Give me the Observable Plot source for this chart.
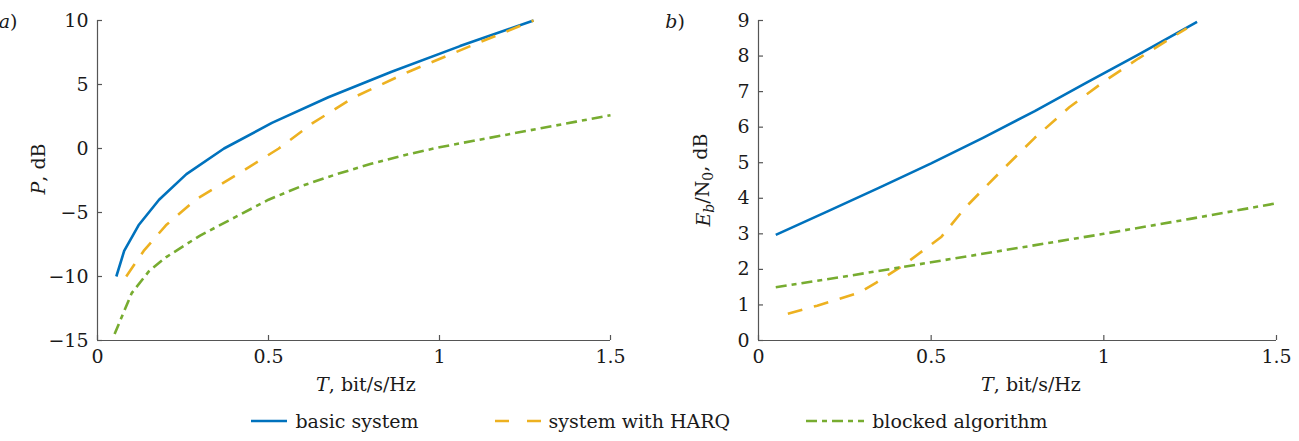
<!DOCTYPE html>
<html>
<head>
<meta charset="utf-8">
<script src="https://cdn.jsdelivr.net/npm/d3@7"></script>
<script src="https://cdn.jsdelivr.net/npm/@observablehq/plot@0.6"></script>
<style>
  html, body { margin: 0; padding: 0; background: #fff; }
  #wrap { width: 1299px; height: 441px; font-family: "DejaVu Serif", serif; color: #1a1a1a; }
  #panels { display: flex; width: 1299px; height: 400px; }
  #legend { display: flex; justify-content: center; align-items: center; height: 41px; font-size: 19px; gap: 0; }
  .item { display: flex; align-items: center; margin: 0 38px; }
  .item svg { margin-right: 8px; }
</style>
</head>
<body>
<div id="wrap">
  <div id="panels"></div>
  <div id="legend"></div>
</div>
<script>
// ---- data ----
const seriesNames = ["basic system", "system with HARQ", "blocked algorithm"];
const colors = ["#0072BD", "#EDB120", "#77AC30"];
const dashes = [null, "15,12", "11,5,5,5"];

const xTicks = [0, 0.5, 1, 1.5];
const leftYTicks = [-15, -10, -5, 0, 5, 10];
const rightYTicks = [0, 1, 2, 3, 4, 5, 6, 7, 8, 9];

// panel a) P, dB
const leftT_basic = [0.055, 0.078, 0.12, 0.18, 0.26, 0.37, 0.51, 0.675, 0.86, 1.06, 1.275];
const leftP_basic = [-10, -8, -6, -4, -2, 0, 2, 4, 6, 8, 10];
const leftT_harq = [0.084, 0.135, 0.2, 0.287, 0.41, 0.53, 0.63, 0.75, 0.91, 1.09, 1.275];
const leftP_harq = [-10, -8, -6, -4, -2, 0, 2, 4, 6, 8, 10];
const leftT_block = [0.05, 0.1, 0.15, 0.2, 0.3, 0.4, 0.5, 0.6, 0.7, 0.8, 0.9, 1.0, 1.1, 1.2, 1.3, 1.4, 1.5];
const leftP_block = [-14.5, -11.3, -9.6, -8.5, -6.8, -5.4, -4.0, -2.9, -2.0, -1.2, -0.5, 0.1, 0.6, 1.1, 1.6, 2.1, 2.6];

// panel b) Eb/N0, dB
const rightT_basic = [0.05, 0.2, 0.35, 0.5, 0.65, 0.8, 0.95, 1.1, 1.27];
const rightE_basic = [2.97, 3.63, 4.3, 4.98, 5.7, 6.45, 7.25, 8.04, 8.96];
const rightT_harq = [0.085, 0.17, 0.29, 0.34, 0.42, 0.5, 0.53, 0.6, 0.7, 0.8, 0.9, 1.0, 1.1, 1.2, 1.24];
const rightE_harq = [0.75, 0.98, 1.34, 1.62, 2.12, 2.7, 2.92, 3.75, 4.74, 5.7, 6.56, 7.28, 7.93, 8.54, 8.78];
const rightT_block = [0.05, 0.25, 0.5, 0.75, 1.0, 1.25, 1.5];
const rightE_block = [1.5, 1.8, 2.2, 2.6, 3.0, 3.42, 3.86];

const zip = (xs, ys) => xs.map((x, i) => ({x, y: ys[i]}));

function panel({width, marginLeft, marginRight, yDomain, yTicks, series}) {
  const height = 400, marginTop = 20, marginBottom = 60;
  const pw = width - marginLeft - marginRight;
  const ph = height - marginTop - marginBottom;
  const axisColor = "#555";
  const marks = [
    Plot.ruleX([0], {stroke: axisColor, strokeWidth: 1.2}),
    Plot.ruleY([yDomain[0]], {stroke: axisColor, strokeWidth: 1.2}),
    Plot.ruleX(xTicks, {x: d => d, insetTop: ph - 5, stroke: axisColor, strokeWidth: 1.2}),
    Plot.ruleY(yTicks, {y: d => d, insetRight: pw - 5, stroke: axisColor, strokeWidth: 1.2}),
    Plot.axisX({ticks: xTicks, tickSize: 0, tickPadding: 9, tickFormat: d => String(d), fontSize: 19}),
    Plot.axisY({ticks: yTicks, tickSize: 0, tickPadding: 9, fontSize: 19}),
  ];
  series.forEach((data, i) => {
    marks.push(Plot.line(data, {x: "x", y: "y", stroke: colors[i], strokeWidth: 2.6,
      strokeDasharray: dashes[i], strokeLinecap: "butt", strokeLinejoin: "round"}));
  });
  return Plot.plot({
    width, height, marginLeft, marginRight, marginTop, marginBottom,
    style: {fontFamily: "DejaVu Serif", fontSize: "19px", color: "#1a1a1a", background: "#fff", overflow: "visible"},
    x: {domain: [0, 1.5], label: null},
    y: {domain: yDomain, label: null},
    marks
  });
}

const left = panel({
  width: 650, marginLeft: 97, marginRight: 40, yDomain: [-15, 10], yTicks: leftYTicks,
  series: [zip(leftT_basic, leftP_basic), zip(leftT_harq, leftP_harq), zip(leftT_block, leftP_block)]
});
const right = panel({
  width: 649, marginLeft: 108, marginRight: 23, yDomain: [0, 9], yTicks: rightYTicks,
  series: [zip(rightT_basic, rightE_basic), zip(rightT_harq, rightE_harq), zip(rightT_block, rightE_block)]
});

document.getElementById("panels").append(left, right);

function addXLabel(svg, cx) {
  const t = d3.select(svg).append("text")
    .attr("x", cx).attr("y", 391).attr("text-anchor", "middle")
    .attr("font-size", 19).attr("fill", "#1a1a1a");
  t.append("tspan").attr("font-style", "italic").text("T");
  t.append("tspan").text(", bit/s/Hz");
}
function addPanelTag(svg, x, letter) {
  const t = d3.select(svg).append("text")
    .attr("x", x).attr("y", 28).attr("font-size", 19).attr("fill", "#1a1a1a");
  t.append("tspan").attr("font-style", "italic").text(letter);
  t.append("tspan").text(")");
}

addXLabel(left, 366);
addXLabel(right, 381);
addPanelTag(left, 8, "a");
addPanelTag(right, 25, "b");

{
  const t = d3.select(left).append("text")
    .attr("transform", "translate(45,169) rotate(-90)")
    .attr("text-anchor", "middle").attr("font-size", 19).attr("fill", "#1a1a1a");
  t.append("tspan").attr("font-style", "italic").text("P");
  t.append("tspan").text(", dB");
}
{
  const t = d3.select(right).append("text")
    .attr("transform", "translate(60,180) rotate(-90)")
    .attr("text-anchor", "middle").attr("font-size", 19).attr("fill", "#1a1a1a");
  t.append("tspan").attr("font-style", "italic").text("E");
  t.append("tspan").attr("font-style", "italic").attr("font-size", 14).attr("dy", "0.3em").text("b");
  t.append("tspan").attr("dy", "-0.3em").text("/N");
  t.append("tspan").attr("font-size", 14).attr("dy", "0.3em").text("0");
  t.append("tspan").attr("dy", "-0.3em").text(", dB");
}

// legend
const legend = d3.select("#legend");
const swatchW = [36, 46, 58];
const legendDash = [null, "14,18", "11,5,5,5"];
seriesNames.forEach((name, i) => {
  const item = legend.append("div").attr("class", "item");
  const s = item.append("svg").attr("width", swatchW[i]).attr("height", 10);
  s.append("line").attr("x1", 0).attr("x2", swatchW[i]).attr("y1", 5).attr("y2", 5)
    .attr("stroke", colors[i]).attr("stroke-width", 2.6)
    .attr("stroke-dasharray", legendDash[i]);
  item.append("span").text(name);
});
</script>
</body>
</html>
